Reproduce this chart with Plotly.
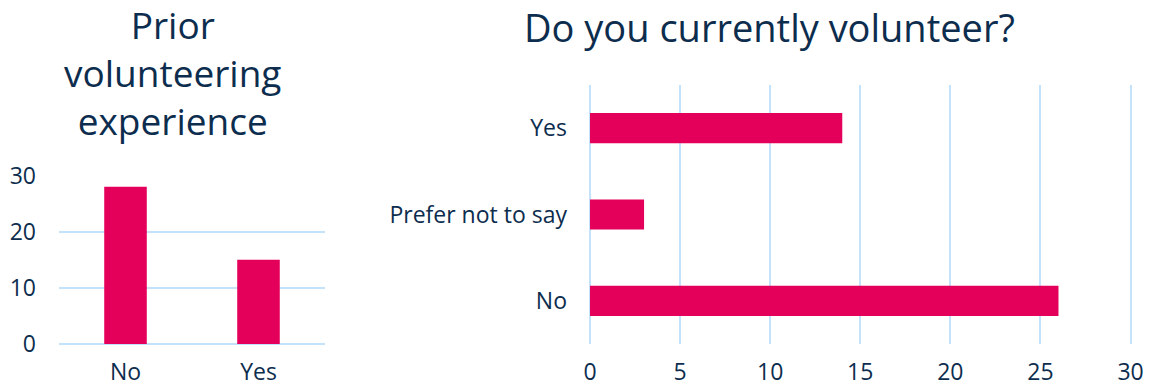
import plotly.graph_objects as go

# Prior volunteering experience (column chart)
prior_categories = ["No", "Yes"]
prior_counts = [28, 15]

# Do you currently volunteer? (horizontal bar chart, bottom to top)
current_categories = ["No", "Prefer not to say", "Yes"]
current_counts = [26, 3, 14]

axis_ticks = [0, 10, 20, 30]
current_ticks = [0, 5, 10, 15, 20, 25, 30]

prior_title = "Prior<br>volunteering<br>experience"
current_title = "Do you currently volunteer?"

BAR = "#e4005a"
TEXT = "#0d2d4e"
GRID = "#c4e2fa"
FONT = "Open Sans"

W, H = 1153, 387

fig = go.Figure()

fig.add_trace(go.Bar(
    x=prior_categories, y=prior_counts,
    marker=dict(color=BAR, line=dict(width=0)),
    xaxis="x", yaxis="y", showlegend=False,
))

fig.add_trace(go.Bar(
    y=current_categories, x=current_counts, orientation="h",
    marker=dict(color=BAR, line=dict(width=0)),
    xaxis="x2", yaxis="y2", showlegend=False, width=0.35,
))

tick_font = dict(family=FONT, size=23, color=TEXT)

fig.update_layout(
    width=W, height=H,
    margin=dict(l=0, r=0, t=0, b=0, autoexpand=False),
    paper_bgcolor="white", plot_bgcolor="white",
    bargap=0.68,
    font=dict(family=FONT, color=TEXT),
    xaxis=dict(
        domain=[59 / W, 325 / W], anchor="y", automargin=False,
        showgrid=False, zeroline=False, showline=False,
        tickfont=tick_font, ticks="", ticklabelstandoff=12,
    ),
    yaxis=dict(
        domain=[(H - 344) / H, (H - 175) / H], anchor="x", automargin=False,
        range=[0, 30.08], tickvals=axis_ticks,
        showgrid=True, gridcolor=GRID, gridwidth=2,
        zeroline=True, zerolinecolor=GRID, zerolinewidth=2, showline=False,
        tickfont=tick_font, ticks="", ticklabelstandoff=22,
    ),
    xaxis2=dict(
        domain=[590 / W, 1132 / W], anchor="y2", automargin=False,
        range=[0, 30.08], tickvals=current_ticks,
        showgrid=True, gridcolor=GRID, gridwidth=2,
        zeroline=True, zerolinecolor=GRID, zerolinewidth=2, showline=False,
        tickfont=tick_font, ticks="", ticklabelstandoff=12,
    ),
    yaxis2=dict(
        domain=[(H - 344) / H, (H - 85) / H], anchor="x2", automargin=False,
        range=[-0.5, 2.5],
        showgrid=False, zeroline=False, showline=False,
        tickfont=tick_font, ticks="", ticklabelstandoff=22,
    ),
)

fig.add_annotation(
    text=prior_title,
    x=172 / W, y=1 - 148 / H, xref="paper", yref="paper",
    xanchor="center", yanchor="bottom", showarrow=False,
    font=dict(family=FONT, size=37, color=TEXT), align="center",
)
fig.add_annotation(
    text=current_title,
    x=769 / W, y=1 - 55 / H, xref="paper", yref="paper",
    xanchor="center", yanchor="bottom", showarrow=False,
    font=dict(family=FONT, size=38, color=TEXT),
)

fig.write_html("out.html")
